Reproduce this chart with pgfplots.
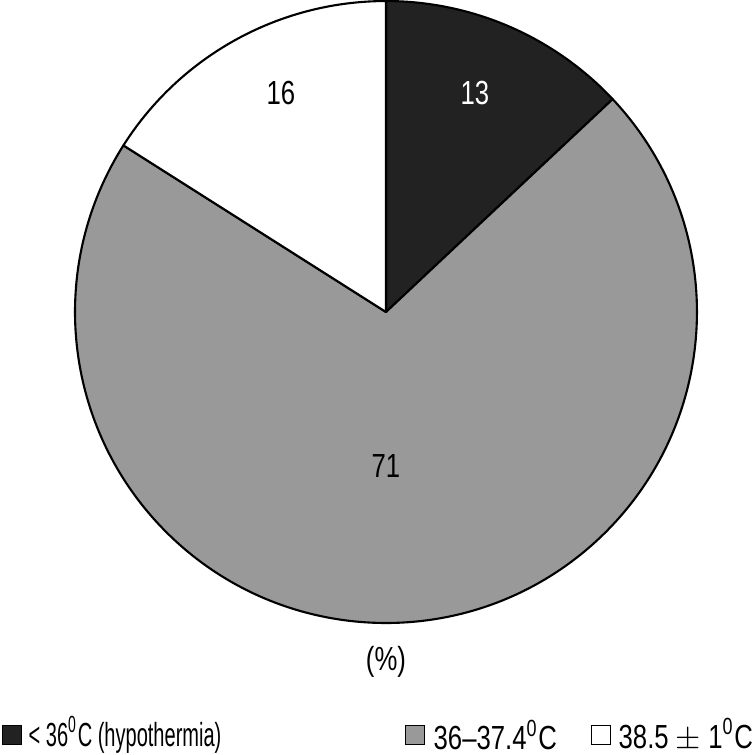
\documentclass[border=0pt]{standalone}
\usepackage{pgfplots}
\usepackage{pgfplotstable}
\pgfplotsset{compat=1.18}
\usepackage{fontspec}
\setmainfont[FakeStretch=0.77]{Liberation Sans}
\newfontfamily\narrowfont[FakeStretch=0.6]{Liberation Sans}
\definecolor{sliceA}{HTML}{222222}
\definecolor{sliceB}{HTML}{999999}
\definecolor{sliceC}{HTML}{FFFFFF}

% percent, fill colour, label position (px units), label colour
\pgfplotstableread{
pct color labx laby txtcol
13 sliceA 475 662 white
71 sliceB 386 289 black
16 sliceC 281 662 black
}\piedata

\begin{document}
\begin{tikzpicture}
\begin{axis}[
  scale only axis, width=7.53cm, height=7.55cm,
  xmin=0, xmax=753, ymin=0, ymax=755,
  hide axis, clip=false,
  font=\fontsize{9.5pt}{11pt}\selectfont,
]
\pgfplotsextra{
  \path (rel axis cs:0,0) rectangle (rel axis cs:1,1);
  \xdef\startang{90}
  \foreach \i in {0,1,2}{
    \pgfplotstablegetelem{\i}{pct}\of\piedata \let\slicepct=\pgfplotsretval
    \pgfplotstablegetelem{\i}{color}\of\piedata \let\slicecol=\pgfplotsretval
    \pgfmathsetmacro\endang{\startang-3.6*\slicepct}
    \filldraw[fill=\slicecol, draw=black, line width=0.6pt, line join=round]
      (axis cs:386,443) -- ++(\startang:3.11cm)
      arc[start angle=\startang, end angle=\endang, radius=3.11cm] -- cycle;
    \xdef\startang{\endang}
  }
  \foreach \i in {0,1,2}{
    \pgfplotstablegetelem{\i}{pct}\of\piedata \let\slicepct=\pgfplotsretval
    \pgfplotstablegetelem{\i}{labx}\of\piedata \let\lx=\pgfplotsretval
    \pgfplotstablegetelem{\i}{laby}\of\piedata \let\ly=\pgfplotsretval
    \pgfplotstablegetelem{\i}{txtcol}\of\piedata \let\tc=\pgfplotsretval
    \node[text=\tc, font=\fontsize{9.5pt}{11pt}\selectfont] at (axis cs:\lx,\ly) {\slicepct};
  }
  \node[font=\fontsize{9.5pt}{11pt}\selectfont] at (axis cs:386,93) {(\%)};
  % legend
  \node[draw=black, fill=sliceA, minimum size=0.19cm, inner sep=0pt, line width=0.5pt] at (axis cs:12,20) {};
  \node[anchor=west, inner sep=0pt, font=\fontsize{9.5pt}{11pt}\narrowfont] at (axis cs:28,20) {< 36\textsuperscript{0}C (hypothermia)};
  \node[draw=black, fill=sliceB, minimum size=0.19cm, inner sep=0pt, line width=0.5pt] at (axis cs:415,20) {};
  \node[anchor=west, inner sep=0pt, font=\fontsize{9.5pt}{11pt}\selectfont] at (axis cs:433,20) {36--37.4\textsuperscript{0}C};
  \node[draw=black, fill=sliceC, minimum size=0.19cm, inner sep=0pt, line width=0.5pt] at (axis cs:601,20) {};
  \node[anchor=west, inner sep=0pt, font=\fontsize{9.5pt}{11pt}\selectfont] at (axis cs:618,20) {38.5 $\pm$ 1\textsuperscript{0}C};
}
\end{axis}
\end{tikzpicture}
\end{document}
